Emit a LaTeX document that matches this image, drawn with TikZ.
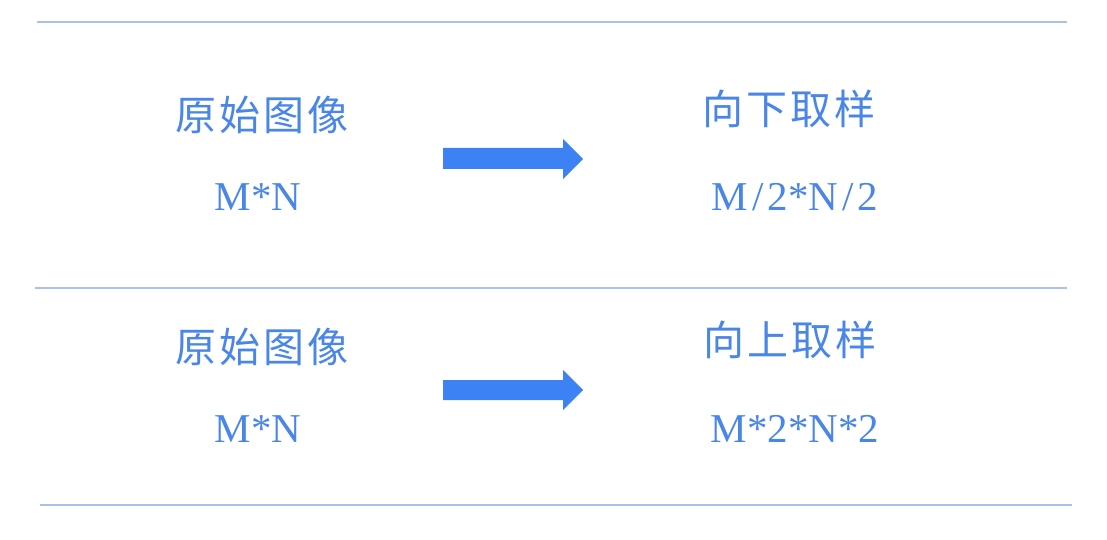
\documentclass[tikz,border=0pt]{standalone}
\usepackage{fontspec}
\usepackage{xcolor}
\setmainfont{Liberation Serif}
\newfontfamily\cjk[LetterSpace=7]{Noto Sans CJK SC}

\definecolor{labelblue}{HTML}{4A86E8}
\definecolor{arrowblue}{HTML}{3C82F4}
\definecolor{ruleblue}{HTML}{A9C1EC}

\tikzset{
  cjklabel/.style={text=labelblue, font=\cjk\fontsize{41}{45}\selectfont},
  sizelabel/.style={text=labelblue, anchor=base, font=\fontsize{41}{45}\selectfont},
  rule/.style={ruleblue, line width=1.2pt},
  blockarrow/.style={fill=arrowblue}
}

\begin{document}
\begin{tikzpicture}[x=1pt,y=-1pt]
        \useasboundingbox (0,0) rectangle (1107,540);

        % separator lines
        \draw[rule] (37,22) -- (1067,22);
        \draw[rule] (35,288) -- (1067,288);
        \draw[rule] (40,505) -- (1072,505);

        % downsampling row
        \node[cjklabel] (orig1) at (262,115) {原始图像};
        \node[sizelabel] (size1) at (258,210) {M*N};
        \fill[blockarrow] (443,148) -- (563,148) -- (563,139) -- (583,159)
            -- (563,179) -- (563,169) -- (443,169) -- cycle;
        \node[cjklabel] (down) at (789,109) {向下取样};
        \node[sizelabel] (downsize) at (795,210) {M\kern4pt/\kern4pt2*N\kern4pt/\kern4pt2};

        % upsampling row
        \node[cjklabel] (orig2) at (262,347) {原始图像};
        \node[sizelabel] (size2) at (258,442) {M*N};
        \fill[blockarrow] (443,380) -- (563,380) -- (563,370) -- (583,390)
            -- (563,410) -- (563,400) -- (443,400) -- cycle;
        \node[cjklabel] (up) at (790,340) {向上取样};
        \node[sizelabel] (upsize) at (795,442) {M*2*N*2};
    \end{tikzpicture}
\end{document}
